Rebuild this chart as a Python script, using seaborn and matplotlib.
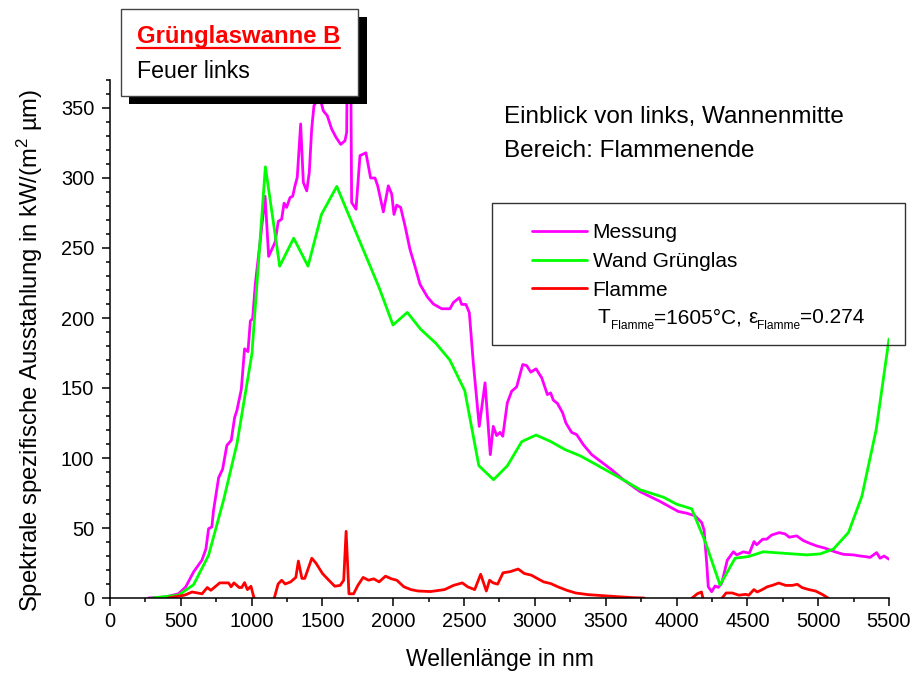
import numpy as np
import pandas as pd
import matplotlib
matplotlib.use("Agg")
import matplotlib.pyplot as plt
from matplotlib.patches import Rectangle
from matplotlib.lines import Line2D
from matplotlib.ticker import MultipleLocator
import seaborn as sns

# ---------------- data ----------------
mess_x = [271, 389, 483, 535, 590, 649, 677, 696, 719, 731, 767, 795, 825, 856, 880, 896, 927, 950, 974, 991,
          1007, 1026, 1061, 1095, 1120, 1165, 1188, 1212, 1229, 1247, 1271, 1290, 1306, 1322, 1346, 1365, 1389,
          1407, 1424, 1440, 1455, 1483, 1506, 1534, 1565, 1596, 1629, 1659, 1671, 1678, 1697, 1706, 1737, 1765,
          1807, 1840, 1871, 1890, 1930, 1965, 1989, 2005, 2024, 2052, 2083, 2118, 2153, 2189, 2241, 2283, 2342,
          2400, 2424, 2466, 2483, 2513, 2537, 2565, 2607, 2648, 2685, 2706, 2730, 2754, 2773, 2805, 2836, 2871,
          2914, 2942, 2971, 3008, 3048, 3088, 3111, 3130, 3159, 3196, 3219, 3259, 3295, 3342, 3401, 3448, 3542,
          3624, 3742, 3883, 4012, 4071, 4130, 4177, 4194, 4213, 4224, 4248, 4272, 4295, 4319, 4358, 4401, 4425,
          4472, 4514, 4547, 4566, 4608, 4636, 4672, 4725, 4766, 4796, 4848, 4895, 4942, 4989, 5048, 5118, 5177,
          5248, 5295, 5331, 5366, 5413, 5437, 5465, 5500]
mess_y = [0, 0.7, 3, 8, 18.6, 27, 35, 49.5, 50.7, 62.6, 86, 92, 109, 112.6, 129, 134, 149, 178, 176, 198,
          199.5, 224.5, 255.5, 287, 244, 254, 269, 270.6, 282, 279, 286, 287, 294.4, 300.4, 338.6, 296.8, 290.8,
          304, 335, 351.7, 354, 357, 348, 344.5, 335, 329, 324, 326.6, 332.6, 420, 420, 282.5, 277.7, 316,
          318, 300, 300, 294.4, 275.8, 294.4, 288.5, 274, 280.6, 279, 265.8, 249, 237, 224, 215, 210, 206.6,
          206.6, 211, 214.5, 209.7, 209.7, 203.8, 168, 122.6, 153.7, 102.4, 122.6, 116, 118.3, 115.5, 139.4, 147.7, 150.8,
          166.8, 166, 161.3, 163.7, 157.3, 145.3, 146.5, 141.3, 139, 132.2, 125, 118.3, 116.7, 109.5, 102.4, 98.8, 91.6,
          84.5, 76, 69, 61.8, 60.6, 58.7, 54, 48.7, 24.8, 8, 4.5, 8.6, 7.6, 10.5, 27, 33, 30.8,
          33, 32, 40.3, 38, 42, 42, 45, 46.7, 45.8, 43.4, 44.4, 41, 39, 37.2, 35.6, 33, 31.2,
          30.8, 30, 29.6, 29, 32.4, 28.4, 30, 27.7]

wand_x = [295, 483, 590, 696, 802, 896, 1002, 1097, 1198, 1297, 1398, 1493, 1601, 1899, 1998, 2099, 2193,
          2300, 2399, 2505, 2604, 2708, 2806, 2907, 3008, 3107, 3213, 3319, 3411, 3623, 3743, 3907, 4001,
          4107, 4202, 4307, 4413, 4507, 4612, 4918, 5014, 5108, 5214, 5308, 5409, 5500]
wand_y = [0, 2, 9.5, 30.5, 70, 110, 174.5, 308, 237, 257, 237, 274, 294, 222, 195, 204, 192,
          182, 170, 148, 94.5, 84.5, 94.5, 111.7, 116.4, 112, 106, 101.6, 96.5, 84.5, 77.3, 72, 67,
          63.7, 40.3, 9.3, 28.4, 29.6, 33, 30.8, 31.5, 35, 46.8, 72.5, 120, 185]

flam_x = [412, 525, 580, 650, 687, 712, 775, 837, 855, 875, 912, 930, 950, 970, 995, 1017, 1030, 1150,
          1160, 1187, 1212, 1237, 1275, 1312, 1330, 1355, 1375, 1425, 1455, 1500, 1545, 1587, 1625, 1650,
          1667, 1687, 1720, 1750, 1787, 1825, 1862, 1900, 1945, 1987, 2025, 2075, 2125, 2175, 2262, 2362,
          2425, 2487, 2525, 2575, 2617, 2657, 2680, 2705, 2737, 2775, 2825, 2882, 2925, 2975, 3025, 3062,
          3112, 3162, 3225, 3287, 3375, 3475, 3575, 3700, 3770, 3800, 4080, 4110, 4146, 4176, 4186, 4200,
          4310, 4322, 4350, 4393, 4440, 4487, 4510, 4546, 4570, 4605, 4640, 4675, 4722, 4770, 4817, 4852,
          4887, 4934, 4981, 5028, 5070, 5100, 5500]
flam_y = [0, 2, 4.3, 3, 7.5, 5.5, 10.8, 10.8, 8, 10.8, 7.5, 7.5, 11, 6, 8.4, 0, -30, -30,
          0, 10, 12.7, 10, 11.5, 14.7, 26.4, 14, 14, 28.4, 24.8, 17.5, 12.7, 8.4, 9, 12.7,
          47.6, 3, 3, 9, 14.7, 12.7, 13.7, 11.5, 15.6, 13.7, 12.7, 8, 6, 5, 4.6, 6,
          9, 10.8, 8, 6, 17, 5, 12.7, 10.8, 9.9, 18, 18.8, 20.7, 17.5, 16.3, 13.5, 11.5,
          10.3, 8, 5.5, 3.6, 2.4, 1.7, 1, 0.2, 0, -4, -4, 0, 3, 4.3, 0, -20,
          -20, 0, 3.6, 3.6, 2, 2.6, 2, 6, 4.3, 6, 8, 9, 10.7, 9, 9, 9.8,
          7.4, 6, 5, 2.6, 0, -4, -4]

series_names = ["Messung", "Wand Grünglas", "Flamme"]
series_colors = ["#FF00FF", "#00FF00", "#FF0000"]

x_ticks = list(range(0, 5501, 500))
y_ticks = list(range(0, 351, 50))

# ---------------- style ----------------
sns.set_theme(style="ticks")
FONT = "Liberation Sans"
plt.rcParams["font.family"] = [FONT, "DejaVu Sans"]
plt.rcParams["mathtext.fontset"] = "custom"
plt.rcParams["mathtext.rm"] = FONT
plt.rcParams["mathtext.it"] = FONT + ":italic"
plt.rcParams["axes.edgecolor"] = "black"
plt.rcParams["axes.linewidth"] = 1.1

W, H = 915, 675
fig = plt.figure(figsize=(W / 100, H / 100), dpi=100)
fig.patch.set_facecolor("white")

def fx(px):
    return px / W

def fy(py):
    return 1 - py / H

ax = fig.add_axes([fx(110), fy(598), (889 - 110) / W, (598 - 80) / H])
ax.set_facecolor("white")

df = pd.concat([
    pd.DataFrame({"wl": mess_x, "val": mess_y, "series": series_names[0]}),
    pd.DataFrame({"wl": wand_x, "val": wand_y, "series": series_names[1]}),
    pd.DataFrame({"wl": flam_x, "val": flam_y, "series": series_names[2]}),
], ignore_index=True)

sns.lineplot(data=df, x="wl", y="val", hue="series", hue_order=series_names,
             palette=series_colors, estimator=None, sort=False, linewidth=2.0,
             ax=ax, legend=False)

ax.set_xlim(0, 5500)
ax.set_ylim(0, 370)
ax.set_xticks(x_ticks)
ax.set_yticks(y_ticks)
ax.xaxis.set_minor_locator(MultipleLocator(250))
ax.yaxis.set_minor_locator(MultipleLocator(10))
ax.tick_params(axis="both", which="major", direction="out", length=5.8, width=1.1,
               labelsize=14.4, colors="black")
ax.tick_params(axis="both", which="minor", direction="out", length=3.2, width=1.1, colors="black")
ax.tick_params(axis="x", which="major", pad=4.0)
ax.tick_params(axis="y", which="major", pad=5.5)
sns.despine(ax=ax)

ax.set_xlabel("Wellenlänge in nm", fontsize=16.5, color="black")
ax.set_ylabel(r"Spektrale spezifische Ausstahlung in kW/(m$^{\mathregular{2}}$ µm)",
              fontsize=17.2, color="black")
ax.xaxis.set_label_coords(0.5, (598 - 648) / 518)
ax.yaxis.set_label_coords((45 - 110) / 779, (598 - 350) / 518)

# ---------------- legend ----------------
lines = ax.get_lines()
leg = ax.legend(lines[:3], series_names, loc="upper left",
                bbox_to_anchor=(fx(532), fy(223)), bbox_transform=fig.transFigure,
                frameon=False, borderpad=0, borderaxespad=0, handlelength=2.64,
                handletextpad=0.27, labelspacing=0.47, prop={"family": FONT, "size": 15})
for t in leg.get_texts():
    t.set_color("black")
fig.patches.append(Rectangle((fx(492), fy(345)), (905 - 492) / W, (345 - 203) / H,
                             transform=fig.transFigure, fill=False, edgecolor="#333333",
                             linewidth=1.0, zorder=5))

# T_Flamme line built from pieces
pieces = [("T", 15, 597.3, 323.3), ("Flamme", 8.6, 611, 329.3), ("=1605°C,", 15, 654, 323.3),
          ("ε", 15, 748.3, 323.3), ("Flamme", 8.6, 756.7, 329.3), ("=0.274", 15, 800, 323.3)]
for s, size, px, py in pieces:
    fig.text(fx(px), fy(py), s, fontsize=size, va="baseline", ha="left", color="black", family=FONT)

# ---------------- annotation text ----------------
fig.text(fx(504), fy(123), "Einblick von links, Wannenmitte", fontsize=17.5, va="baseline",
         ha="left", color="black", family=FONT)
fig.text(fx(504), fy(157), "Bereich: Flammenende", fontsize=17.5, va="baseline",
         ha="left", color="black", family=FONT)

# ---------------- title box ----------------
fig.patches.append(Rectangle((fx(129), fy(104.3)), (366.5 - 129) / W, (104.3 - 17) / H,
                             transform=fig.transFigure, facecolor="black", edgecolor="black",
                             linewidth=0, zorder=6))
fig.patches.append(Rectangle((fx(121), fy(96)), (358 - 121) / W, (96 - 9) / H,
                             transform=fig.transFigure, facecolor="white", edgecolor="#444444",
                             linewidth=1.0, zorder=7))
title = fig.text(fx(136.7), fy(43.3), "Grünglaswanne B", fontsize=17.2, fontweight="bold",
                 color="#FF0000", va="baseline", ha="left", family=FONT, zorder=8)
fig.text(fx(137), fy(78.3), "Feuer links", fontsize=16.7, color="black", va="baseline",
         ha="left", family=FONT, zorder=8)

fig.canvas.draw()
bb = title.get_window_extent(fig.canvas.get_renderer())
fig.lines.append(Line2D([bb.x0 / W, bb.x1 / W], [fy(47.8), fy(47.8)], transform=fig.transFigure,
                        color="#FF0000", linewidth=1.6, zorder=8))

fig.savefig("out.png", dpi=100, facecolor="white")
